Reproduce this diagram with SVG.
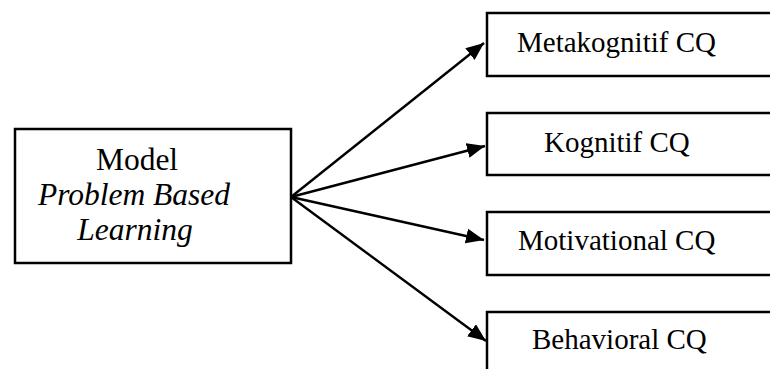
<svg xmlns="http://www.w3.org/2000/svg" width="770" height="369" viewBox="0 0 770 369">
<style>
.box{fill:#fff;stroke:#000;stroke-width:2.5}
.t{font-family:"Liberation Serif","Times New Roman",serif;font-size:29px;fill:#000}
.m{font-size:31.5px}
.i{font-style:italic}
.c{stroke:#000;stroke-width:2.4;fill:none}
</style>
<defs>
<marker id="ah" markerUnits="userSpaceOnUse" markerWidth="20" markerHeight="16" refX="18" refY="7.5" orient="auto">
<path d="M0,0 L18,7.5 L0,15 Z" fill="#000"/>
</marker>
</defs>
<rect width="770" height="369" fill="#fff"/>
<g id="connectors">
<line class="c" x1="291" y1="197" x2="484" y2="43" marker-end="url(#ah)"/>
<line class="c" x1="291" y1="197" x2="485" y2="146" marker-end="url(#ah)"/>
<line class="c" x1="291" y1="197" x2="484" y2="240" marker-end="url(#ah)"/>
<line class="c" x1="291" y1="197" x2="486" y2="341" marker-end="url(#ah)"/>
</g>
<g id="model">
<rect class="box" x="15" y="129" width="276" height="134"/>
<text class="t m" x="137" y="170" text-anchor="middle">Model</text>
<text class="t m i" x="134" y="205" text-anchor="middle">Problem Based</text>
<text class="t m i" x="135" y="240" text-anchor="middle">Learning</text>
</g>
<g id="metakognitif">
<rect class="box" x="487" y="13" width="300" height="63"/>
<text class="t" x="517" y="52">Metakognitif CQ</text>
</g>
<g id="kognitif">
<rect class="box" x="487" y="113" width="300" height="62"/>
<text class="t" x="544" y="152">Kognitif CQ</text>
</g>
<g id="motivational">
<rect class="box" x="487" y="212" width="300" height="63"/>
<text class="t" x="518" y="250">Motivational CQ</text>
</g>
<g id="behavioral">
<rect class="box" x="487" y="312" width="300" height="80"/>
<text class="t" x="532" y="349">Behavioral CQ</text>
</g>
</svg>
